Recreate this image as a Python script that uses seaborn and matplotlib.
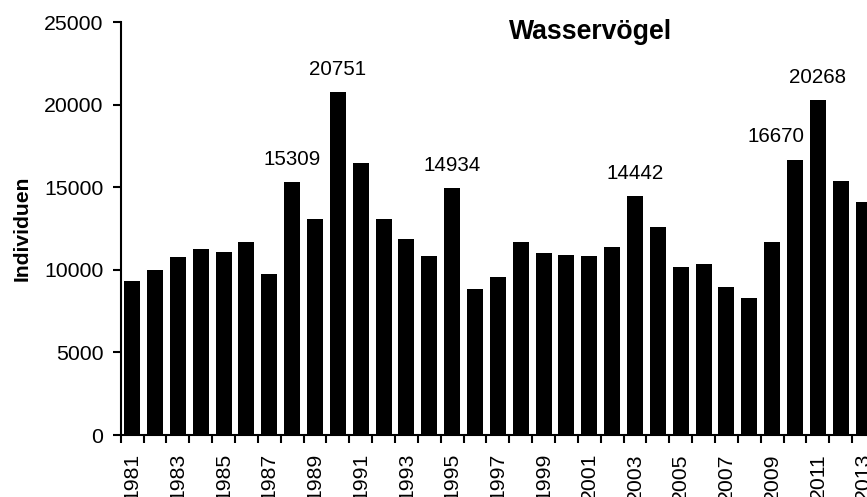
import numpy as np
import pandas as pd
import matplotlib
import matplotlib.pyplot as plt
import seaborn as sns
matplotlib.use('Agg')

years = list(range(1981, 2014))
counts = [9320, 9970, 10760, 11240, 11060, 11660, 9730, 15309, 13080, 20751,
          16450, 13060, 11880, 10850, 14934, 8840, 9560, 11680, 11035, 10880,
          10850, 11360, 14442, 12610, 10190, 10330, 8960, 8270, 11660, 16670,
          20268, 15395, 14080]
labelled = [1988, 1990, 1995, 2003, 2010, 2011]
label_shift = {2010: -14}  # points, moved left so it clears 20268

df = pd.DataFrame({'Jahr': years, 'Individuen': counts})

sns.set_style("ticks")
plt.rcParams['font.family'] = ['Liberation Sans', 'DejaVu Sans']
plt.rcParams['text.color'] = 'black'
plt.rcParams['xtick.color'] = 'black'
plt.rcParams['ytick.color'] = 'black'

fig = plt.figure(figsize=(8.67, 4.97), dpi=100)
ax = fig.add_axes([0.1392, 0.1247, 0.8701, 0.831])

sns.barplot(data=df, x='Jahr', y='Individuen', color='black', width=0.7,
            edgecolor='none', saturation=1, ax=ax)

ax.set_xlim(-0.5, len(years) - 0.5)
ax.set_ylim(0, 25000)
ax.set_yticks(np.arange(0, 25001, 5000))
ax.tick_params(axis='y', labelsize=15.3, length=5.5, width=1.5, pad=7,
               colors='black')

# year labels on every other bar, ticks on the boundaries between bars
ax.set_xticks(range(0, len(years), 2))
ax.set_xticklabels([str(y) for y in years[::2]], rotation=90, fontsize=15.3)
ax.set_xticks(np.arange(-0.5, len(years), 1), minor=True)
ax.tick_params(axis='x', which='major', length=0, pad=13, colors='black')
ax.tick_params(axis='x', which='minor', length=5.5, width=1.5, color='black')

ax.set_xlabel('')
ax.set_ylabel('')
sns.despine(ax=ax)
for side in ['left', 'bottom']:
    ax.spines[side].set_linewidth(1.5)
    ax.spines[side].set_color('black')

for yr in labelled:
    i = years.index(yr)
    ax.annotate(str(counts[i]), (i, counts[i]),
                xytext=(label_shift.get(yr, 0), 16.5), textcoords='offset points',
                ha='center', va='center', fontsize=14.8, color='black')

fig.text(591 / 867, 1 - 32 / 497, 'Wasservögel', ha='center', va='center',
         fontsize=19.2, fontweight='bold', color='black')
fig.text(22 / 867, 1 - 228 / 497, 'Individuen', ha='center', va='center',
         rotation=90, fontsize=15.2, fontweight='bold', color='black')

fig.savefig('out.png', dpi=100)
